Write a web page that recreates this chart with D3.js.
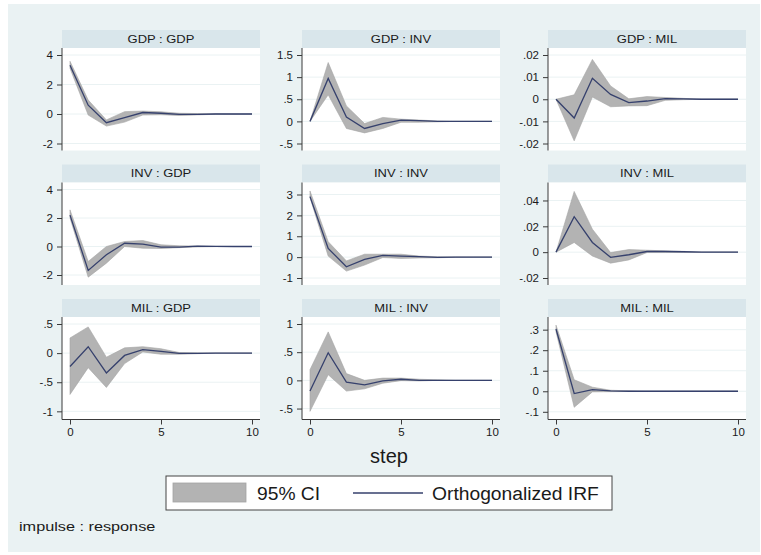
<!DOCTYPE html>
<html>
<head>
<meta charset="utf-8">
<script src="https://cdn.jsdelivr.net/npm/d3@7"></script>
<style>
body { margin: 0; background: #fff; }
svg { display: block; }
text { font-family: "Liberation Sans", Arial, sans-serif; fill: #1a1a1a; }
</style>
</head>
<body>
<svg id="chart"></svg>
<script>
// impulse : response panels, read row by row
var panelNames = ["GDP : GDP", "GDP : INV", "GDP : MIL",
                  "INV : GDP", "INV : INV", "INV : MIL",
                  "MIL : GDP", "MIL : INV", "MIL : MIL"]

var steps = [0, 1, 2, 3, 4, 5, 6, 7, 8, 9, 10]

// orthogonalized IRF
var irfValues = [
    [3.3, 0.6, -0.59, -0.25, 0.1, 0.05, -0.03, -0.02, 0, 0, 0],
    [0, 0.97, 0.1, -0.16, -0.05, 0.03, 0.015, 0, 0, 0, 0],
    [0, -0.0085, 0.0095, 0.0022, -0.0015, -0.0008, 0.0003, 0.0002, 0, 0, 0],
    [2.2, -1.68, -0.58, 0.23, 0.16, -0.05, -0.05, 0.02, 0.01, 0, 0],
    [2.9, 0.42, -0.46, -0.11, 0.08, 0.05, 0.02, -0.01, 0, 0, 0],
    [0, 0.0275, 0.0075, -0.004, -0.002, 0.0005, 0.0005, 0.0003, 0, 0, 0],
    [-0.23, 0.11, -0.34, -0.04, 0.06, 0.03, -0.005, -0.005, 0, 0, 0],
    [-0.19, 0.49, -0.03, -0.08, -0.01, 0.02, 0, 0, 0, 0, 0],
    [0.303, -0.011, 0.008, 0.002, 0, 0, 0, 0, 0, 0, 0]
]

// 95% CI lower bound
var ciLower = [
    [3.1, -0.07, -0.82, -0.55, -0.07, -0.05, -0.1, -0.06, -0.02, -0.01, 0],
    [0, 0.6, -0.16, -0.26, -0.16, -0.02, -0.02, -0.01, 0, 0, 0],
    [0, -0.0188, 0.001, -0.0034, -0.003, -0.0029, -0.0005, -0.0002, 0, 0, 0],
    [2.0, -2.15, -1.17, 0.0, -0.12, -0.14, -0.08, -0.03, -0.01, 0, 0],
    [2.85, 0.05, -0.67, -0.38, -0.02, -0.06, -0.04, -0.03, -0.01, 0, 0],
    [0, 0.0075, -0.003, -0.0085, -0.006, -0.0003, -0.0003, -0.0002, 0, 0, 0],
    [-0.71, -0.25, -0.59, -0.18, 0.02, -0.02, -0.02, -0.01, 0, 0, 0],
    [-0.55, 0.1, -0.19, -0.15, -0.05, -0.005, -0.01, 0, 0, 0, 0],
    [0.29, -0.078, -0.003, -0.002, -0.001, 0, 0, 0, 0, 0, 0]
]

// 95% CI upper bound
var ciUpper = [
    [3.57, 0.95, -0.4, 0.16, 0.2, 0.15, 0.05, 0.03, 0.01, 0, 0],
    [0, 1.33, 0.35, -0.05, 0.09, 0.05, 0.03, 0.01, 0, 0, 0],
    [0, 0.002, 0.018, 0.006, 0.0002, 0.0012, 0.0008, 0.0004, 0, 0, 0],
    [2.57, -1.05, 0.0, 0.35, 0.42, 0.12, 0.05, 0.03, 0.01, 0, 0],
    [3.17, 0.74, -0.18, 0.14, 0.14, 0.14, 0.05, 0.02, 0.01, 0, 0],
    [0, 0.047, 0.0178, -0.0003, 0.002, 0.0015, 0.001, 0.0006, 0, 0, 0],
    [0.26, 0.45, -0.07, 0.09, 0.11, 0.075, 0.01, 0.005, 0, 0, 0],
    [0.19, 0.86, 0.12, 0.0, 0.04, 0.04, 0.02, 0.01, 0, 0, 0],
    [0.322, 0.056, 0.02, 0.005, 0.002, 0, 0, 0, 0, 0, 0]
]

var yTicks = [
    [-2, 0, 2, 4], [-0.5, 0, 0.5, 1, 1.5], [-0.02, -0.01, 0, 0.01, 0.02],
    [-2, 0, 2, 4], [-1, 0, 1, 2, 3], [-0.02, 0, 0.02, 0.04],
    [-1, -0.5, 0, 0.5], [-0.5, 0, 0.5, 1], [-0.1, 0, 0.1, 0.2, 0.3]
]

var yDomains = [
    [-2, 4], [-0.5, 1.5], [-0.02, 0.02],
    [-2.21, 4], [-1, 3.24], [-0.02, 0.0485],
    [-1.02, 0.5], [-0.57, 1], [-0.1034, 0.3276]
]

var xTicks = [0, 5, 10]

var dimensions = {
    width: 761,
    height: 555,
    colLeft: [62, 302, 548],
    rowTop: [30, 164.5, 299],
    panelWidth: 198,
    stripHeight: 18,
    plotHeight: 102.5,
    pad: 7
}

var colors = {
    bg: "#eaf2f3",
    strip: "#d9e6eb",
    grid: "#eaf2f3",
    ci: "#b3b3b3",
    ciEdge: "#a4a4a4",
    line: "#36416d",
    axis: "#3a3a3a"
}

var svg = d3.select("#chart")
            .attr("width", dimensions.width)
            .attr("height", dimensions.height)

svg.append("rect")
    .attr("x", 8).attr("y", 4)
    .attr("width", 752).attr("height", 548)
    .attr("fill", colors.bg)

// stata style labels: .5, -.02
var fmt = function(v){
    return String(+v.toFixed(4)).replace(/^(-?)0\./, "$1.")
}

// horizontally stretched text, the small stata text is wider than Arial
function stretchText(g, x, y, str, size, sx, anchor){
    return g.append("text")
        .attr("transform", `translate(${x},${y}) scale(${sx},1)`)
        .attr("text-anchor", anchor)
        .style("font-size", size + "px")
        .text(str)
}

panelNames.forEach(function(name, i){
    var row = Math.floor(i / 3)
    var col = i % 3
    var left = dimensions.colLeft[col]
    var right = left + dimensions.panelWidth
    var top = dimensions.rowTop[row]
    var plotTop = top + dimensions.stripHeight
    var plotBottom = plotTop + dimensions.plotHeight

    var g = svg.append("g")

    g.append("rect")
        .attr("x", left).attr("y", top)
        .attr("width", dimensions.panelWidth).attr("height", dimensions.stripHeight)
        .attr("fill", colors.strip)

    stretchText(g, (left + right) / 2, top + 12.5, name, 11, 1.18, "middle")

    g.append("rect")
        .attr("x", left).attr("y", plotTop)
        .attr("width", dimensions.panelWidth).attr("height", dimensions.plotHeight)
        .attr("fill", "#fff")

    var xScale = d3.scaleLinear()
                    .domain([0, 10])
                    .range([left + 8, right - 8])

    var yScale = d3.scaleLinear()
                    .domain(yDomains[i])
                    .range([plotBottom - dimensions.pad, plotTop + dimensions.pad])

    // grid
    g.selectAll(".grid")
        .data(yTicks[i])
        .enter()
        .append("line")
        .attr("x1", left).attr("x2", right)
        .attr("y1", d => yScale(d)).attr("y2", d => yScale(d))
        .attr("stroke", colors.grid)
        .attr("stroke-width", 1)

    var data = steps.map(function(s, k){
        return {step: s, irf: irfValues[i][k], lo: ciLower[i][k], hi: ciUpper[i][k]}
    })

    g.append("path")
        .datum(data)
        .attr("fill", colors.ci)
        .attr("stroke", colors.ciEdge)
        .attr("stroke-width", 0.6)
        .attr("d", d3.area()
            .x(d => xScale(d.step))
            .y0(d => yScale(d.lo))
            .y1(d => yScale(d.hi))
        )

    g.append("path")
        .datum(data)
        .attr("fill", "none")
        .attr("stroke", colors.line)
        .attr("stroke-width", 1.3)
        .attr("d", d3.line()
            .x(d => xScale(d.step))
            .y(d => yScale(d.irf))
        )

    var yAxisgen = d3.axisLeft(yScale)
                    .tickValues(yTicks[i])
                    .tickFormat(fmt)
                    .tickSize(5)
                    .tickSizeOuter(0)
                    .tickPadding(4)

    var yAxis = g.append("g")
                    .attr("transform", `translate(${left},0)`)
                    .call(yAxisgen)
    yAxis.select(".domain").remove()
    yAxis.selectAll("line").attr("stroke", colors.axis)
    yAxis.selectAll("text")
        .style("font-size", "11.5px")
        .style("font-family", '"Liberation Sans", Arial, sans-serif')
        .attr("fill", "#1a1a1a")

    g.append("line")
        .attr("x1", left).attr("x2", left)
        .attr("y1", plotTop).attr("y2", plotBottom)
        .attr("stroke", colors.axis)
        .attr("stroke-width", 1)

    // x axis only on the bottom row
    if(row == 2){
        var xAxisgen = d3.axisBottom(xScale)
                        .tickValues(xTicks)
                        .tickSize(5)
                        .tickSizeOuter(0)
                        .tickPadding(3)
        var xAxis = g.append("g")
                        .attr("transform", `translate(0,${plotBottom})`)
                        .call(xAxisgen)
        xAxis.select(".domain").remove()
        xAxis.selectAll("line").attr("stroke", colors.axis)
        xAxis.selectAll("text")
            .style("font-size", "11.5px")
            .style("font-family", '"Liberation Sans", Arial, sans-serif')
            .attr("fill", "#1a1a1a")

        g.append("line")
            .attr("x1", left).attr("x2", right)
            .attr("y1", plotBottom).attr("y2", plotBottom)
            .attr("stroke", colors.axis)
            .attr("stroke-width", 1)
    }
})

// x title
svg.append("text")
    .attr("x", 389).attr("y", 463)
    .attr("text-anchor", "middle")
    .style("font-size", "20px")
    .text("step")

// legend
var legend = svg.append("g")
legend.append("rect")
    .attr("x", 166).attr("y", 476)
    .attr("width", 446).attr("height", 34)
    .attr("fill", "#fff")
    .attr("stroke", "#444")
    .attr("stroke-width", 1)

legend.append("rect")
    .attr("x", 173).attr("y", 483)
    .attr("width", 73).attr("height", 19)
    .attr("fill", colors.ci)
    .attr("stroke", colors.ciEdge)
    .attr("stroke-width", 0.8)

stretchText(legend, 257, 499.5, "95% CI", 18, 1.07, "start")

legend.append("line")
    .attr("x1", 353).attr("x2", 423)
    .attr("y1", 493).attr("y2", 493)
    .attr("stroke", colors.line)
    .attr("stroke-width", 1.3)

stretchText(legend, 432, 499.5, "Orthogonalized IRF", 18, 1.07, "start")

// note
stretchText(svg, 19, 531, "impulse : response", 13, 1.25, "start")
</script>
</body>
</html>
